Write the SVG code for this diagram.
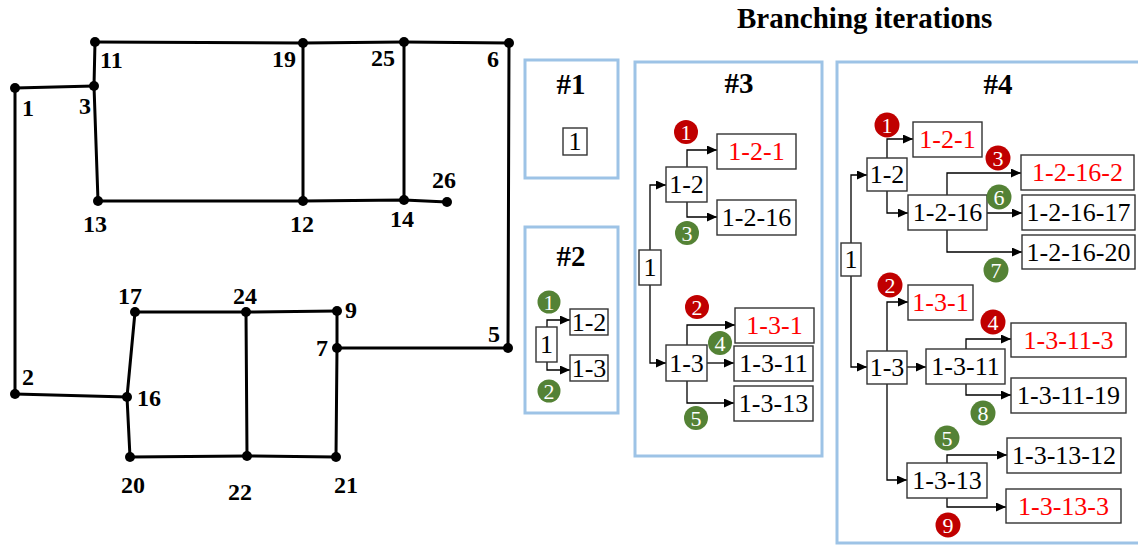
<svg xmlns="http://www.w3.org/2000/svg" width="1138" height="545" viewBox="0 0 1138 545">
<style>
.edge{stroke:#000;stroke-width:3;fill:none;stroke-linecap:round}
.vtx{fill:#000}
.glab{font-family:"Liberation Serif",serif;font-weight:bold;font-size:24px;fill:#000}
.panel{fill:none;stroke:#9DC3E6;stroke-width:3}
.ptitle{font-family:"Liberation Serif",serif;font-weight:bold;font-size:29px;fill:#000;text-anchor:middle}
.box{fill:#fff;stroke:#333;stroke-width:1.4}
.bt{font-family:"Liberation Serif",serif;font-size:26px;fill:#000;text-anchor:middle}
.red{fill:#FF0000}
.conn{stroke:#000;stroke-width:1.3;fill:none;marker-end:url(#arr)}
.cr{fill:#C00000}
.cg{fill:#548235}
.ct{font-family:"Liberation Serif",serif;font-size:22px;fill:#fff;text-anchor:middle}
</style>
<defs>
<marker id="arr" markerUnits="userSpaceOnUse" markerWidth="11" markerHeight="9" refX="10" refY="4.5" orient="auto">
<path d="M0,0 L10,4.5 L0,9 z" fill="#000"/>
</marker>
</defs>
<rect width="1138" height="545" fill="#fff"/>

<g id="network-edges">
<path class="edge" d="M95,42 L303,43 L404,42 L509,43"/>
<path class="edge" d="M95,42 L94,86"/>
<path class="edge" d="M15,88 L94,86"/>
<path class="edge" d="M15,88 L15,394"/>
<path class="edge" d="M94,86 L98,201"/>
<path class="edge" d="M98,201 L303,201 L404,200 L447,202"/>
<path class="edge" d="M303,43 L303,201"/>
<path class="edge" d="M404,42 L404,200"/>
<path class="edge" d="M509,43 L508,348"/>
<path class="edge" d="M508,348 L337,348"/>
<path class="edge" d="M337,311 L337,348 L336,457"/>
<path class="edge" d="M337,311 L246,312 L135,312"/>
<path class="edge" d="M135,312 L127,397 L130,457"/>
<path class="edge" d="M15,394 L127,397"/>
<path class="edge" d="M130,457 L247,456 L336,457"/>
<path class="edge" d="M246,312 L247,456"/>
</g>

<g id="network-nodes">
<g id="n1"><circle class="vtx" cx="15" cy="88" r="5"/><text class="glab" x="22" y="116">1</text></g>
<g id="n2"><circle class="vtx" cx="15" cy="394" r="5"/><text class="glab" x="22" y="385">2</text></g>
<g id="n3"><circle class="vtx" cx="94" cy="86" r="5"/><text class="glab" x="79" y="114">3</text></g>
<g id="n5"><circle class="vtx" cx="508" cy="348" r="5"/><text class="glab" x="488" y="342">5</text></g>
<g id="n6"><circle class="vtx" cx="509" cy="43" r="5"/><text class="glab" x="487" y="67">6</text></g>
<g id="n7"><circle class="vtx" cx="337" cy="348" r="5"/><text class="glab" x="316" y="356">7</text></g>
<g id="n9"><circle class="vtx" cx="337" cy="311" r="5"/><text class="glab" x="345" y="318">9</text></g>
<g id="n11"><circle class="vtx" cx="95" cy="42" r="5"/><text class="glab" x="100" y="68">11</text></g>
<g id="n12"><circle class="vtx" cx="303" cy="201" r="5"/><text class="glab" x="290" y="232">12</text></g>
<g id="n13"><circle class="vtx" cx="98" cy="201" r="5"/><text class="glab" x="83" y="232">13</text></g>
<g id="n14"><circle class="vtx" cx="404" cy="200" r="5"/><text class="glab" x="390" y="227">14</text></g>
<g id="n16"><circle class="vtx" cx="127" cy="397" r="5"/><text class="glab" x="137" y="406">16</text></g>
<g id="n17"><circle class="vtx" cx="135" cy="312" r="5"/><text class="glab" x="118" y="304">17</text></g>
<g id="n19"><circle class="vtx" cx="303" cy="43" r="5"/><text class="glab" x="272" y="67">19</text></g>
<g id="n20"><circle class="vtx" cx="130" cy="457" r="5"/><text class="glab" x="121" y="493">20</text></g>
<g id="n21"><circle class="vtx" cx="336" cy="457" r="5"/><text class="glab" x="334" y="493">21</text></g>
<g id="n22"><circle class="vtx" cx="247" cy="456" r="5"/><text class="glab" x="228" y="500">22</text></g>
<g id="n24"><circle class="vtx" cx="246" cy="312" r="5"/><text class="glab" x="233" y="304">24</text></g>
<g id="n25"><circle class="vtx" cx="404" cy="42" r="5"/><text class="glab" x="371" y="66">25</text></g>
<g id="n26"><circle class="vtx" cx="447" cy="202" r="5"/><text class="glab" x="432" y="188">26</text></g>
</g>

<text id="title" x="737" y="28" font-family="Liberation Serif, serif" font-weight="bold" font-size="29px">Branching iterations</text>

<g id="panels">
<rect class="panel" x="525" y="60" width="93" height="118"/>
<rect class="panel" x="525" y="227" width="93" height="186"/>
<rect class="panel" x="635" y="62" width="187" height="394"/>
<rect class="panel" x="837" y="62" width="304" height="481"/>
<text class="ptitle" x="571" y="94">#1</text>
<text class="ptitle" x="571" y="266">#2</text>
<text class="ptitle" x="739" y="93">#3</text>
<text class="ptitle" x="998" y="94">#4</text>
</g>

<g id="connectors">
<path class="conn" d="M547,327 V320 H570"/>
<path class="conn" d="M547,362 V370 H570"/>

<path class="conn" d="M650,250 V185 H666"/>
<path class="conn" d="M650,285 V363 H666"/>
<path class="conn" d="M687,167 V150 H717"/>
<path class="conn" d="M687,202 V217 H717"/>
<path class="conn" d="M687,345 V325 H735"/>
<path class="conn" d="M707,363 H734"/>
<path class="conn" d="M687,381 V403 H734"/>

<path class="conn" d="M851,243 V175 H867"/>
<path class="conn" d="M887,158 V139 H913"/>
<path class="conn" d="M887,191 V213 H908"/>
<path class="conn" d="M947,195 V173 H1021"/>
<path class="conn" d="M987,213 H1022"/>
<path class="conn" d="M947,230 V252 H1022"/>
<path class="conn" d="M851,276 V367 H867"/>
<path class="conn" d="M887,351 V302 H908"/>
<path class="conn" d="M907,367 H926"/>
<path class="conn" d="M887,384 V480 H907"/>
<path class="conn" d="M966,349 V339 H1011"/>
<path class="conn" d="M966,384 V395 H1011"/>
<path class="conn" d="M947,463 V455 H1007"/>
<path class="conn" d="M947,498 V507 H1006"/>
</g>

<g id="p1-1"><rect class="box" x="563" y="128" width="24" height="27"/><text class="bt" x="575" y="150" font-size="24px">1</text></g>

<g id="p2-1"><rect class="box" x="536" y="327" width="21" height="35"/><text class="bt" x="546.5" y="353">1</text></g>
<g id="p2-1-2"><rect class="box" x="570" y="309" width="38" height="26"/><text class="bt" x="589" y="331">1-2</text></g>
<g id="p2-1-3"><rect class="box" x="570" y="355" width="38" height="26"/><text class="bt" x="589" y="377">1-3</text></g>

<g id="p3-1"><rect class="box" x="639" y="250" width="22" height="35"/><text class="bt" x="650" y="276">1</text></g>
<g id="p3-1-2"><rect class="box" x="666" y="167" width="41" height="35"/><text class="bt" x="686.5" y="193">1-2</text></g>
<g id="p3-1-2-1"><rect class="box" x="717" y="134" width="79" height="35"/><text class="bt red" x="756.5" y="160">1-2-1</text></g>
<g id="p3-1-2-16"><rect class="box" x="717" y="200" width="79" height="35"/><text class="bt" x="756.5" y="226">1-2-16</text></g>
<g id="p3-1-3"><rect class="box" x="666" y="345" width="41" height="36"/><text class="bt" x="686.5" y="372">1-3</text></g>
<g id="p3-1-3-1"><rect class="box" x="735" y="308" width="79" height="35"/><text class="bt red" x="774.5" y="334">1-3-1</text></g>
<g id="p3-1-3-11"><rect class="box" x="734" y="346" width="79" height="35"/><text class="bt" x="773.5" y="372">1-3-11</text></g>
<g id="p3-1-3-13"><rect class="box" x="734" y="386" width="79" height="35"/><text class="bt" x="773.5" y="412">1-3-13</text></g>

<g id="p4-1"><rect class="box" x="841" y="243" width="20" height="33"/><text class="bt" x="851" y="268">1</text></g>
<g id="p4-1-2"><rect class="box" x="867" y="158" width="40" height="33"/><text class="bt" x="887" y="183">1-2</text></g>
<g id="p4-1-2-1"><rect class="box" x="913" y="122" width="69" height="35"/><text class="bt red" x="947.5" y="148">1-2-1</text></g>
<g id="p4-1-2-16"><rect class="box" x="908" y="195" width="79" height="35"/><text class="bt" x="947.5" y="221">1-2-16</text></g>
<g id="p4-1-2-16-2"><rect class="box" x="1021" y="155" width="113" height="35"/><text class="bt red" x="1077.5" y="181">1-2-16-2</text></g>
<g id="p4-1-2-16-17"><rect class="box" x="1022" y="195" width="113" height="35"/><text class="bt" x="1078.5" y="221">1-2-16-17</text></g>
<g id="p4-1-2-16-20"><rect class="box" x="1022" y="235" width="113" height="34"/><text class="bt" x="1078.5" y="261">1-2-16-20</text></g>
<g id="p4-1-3-1"><rect class="box" x="908" y="285" width="65" height="35"/><text class="bt red" x="940.5" y="311">1-3-1</text></g>
<g id="p4-1-3"><rect class="box" x="867" y="351" width="40" height="33"/><text class="bt" x="887" y="376">1-3</text></g>
<g id="p4-1-3-11"><rect class="box" x="926" y="349" width="79" height="35"/><text class="bt" x="965.5" y="375">1-3-11</text></g>
<g id="p4-1-3-11-3"><rect class="box" x="1011" y="323" width="115" height="34"/><text class="bt red" x="1068.5" y="349">1-3-11-3</text></g>
<g id="p4-1-3-11-19"><rect class="box" x="1011" y="378" width="115" height="35"/><text class="bt" x="1068.5" y="404">1-3-11-19</text></g>
<g id="p4-1-3-13"><rect class="box" x="907" y="463" width="80" height="35"/><text class="bt" x="947" y="489">1-3-13</text></g>
<g id="p4-1-3-13-12"><rect class="box" x="1007" y="438" width="114" height="35"/><text class="bt" x="1064" y="464">1-3-13-12</text></g>
<g id="p4-1-3-13-3"><rect class="box" x="1006" y="489" width="115" height="34"/><text class="bt red" x="1063.5" y="515">1-3-13-3</text></g>

<g id="badges">
<g><circle class="cg" cx="549" cy="302" r="11.5"/><text class="ct" x="549" y="310">1</text></g>
<g><circle class="cg" cx="549" cy="391" r="11.5"/><text class="ct" x="549" y="399">2</text></g>

<g><circle class="cr" cx="686" cy="132" r="12"/><text class="ct" x="686" y="140">1</text></g>
<g><circle class="cg" cx="687" cy="233" r="12"/><text class="ct" x="687" y="241">3</text></g>
<g><circle class="cr" cx="697" cy="307" r="12"/><text class="ct" x="697" y="315">2</text></g>
<g><circle class="cg" cx="720" cy="343" r="12"/><text class="ct" x="720" y="351">4</text></g>
<g><circle class="cg" cx="696" cy="418" r="12"/><text class="ct" x="696" y="426">5</text></g>

<g><circle class="cr" cx="887" cy="125" r="12.5"/><text class="ct" x="887" y="133">1</text></g>
<g><circle class="cr" cx="998" cy="158" r="12.5"/><text class="ct" x="998" y="166">3</text></g>
<g><circle class="cg" cx="999" cy="197" r="12.5"/><text class="ct" x="999" y="205">6</text></g>
<g><circle class="cg" cx="996" cy="270" r="12.5"/><text class="ct" x="996" y="278">7</text></g>
<g><circle class="cr" cx="890" cy="285" r="12.5"/><text class="ct" x="890" y="293">2</text></g>
<g><circle class="cr" cx="993" cy="322" r="12.5"/><text class="ct" x="993" y="330">4</text></g>
<g><circle class="cg" cx="983" cy="413" r="12.5"/><text class="ct" x="983" y="421">8</text></g>
<g><circle class="cg" cx="947" cy="438" r="12.5"/><text class="ct" x="947" y="446">5</text></g>
<g><circle class="cr" cx="948" cy="525" r="12.5"/><text class="ct" x="948" y="533">9</text></g>
</g>
</svg>
